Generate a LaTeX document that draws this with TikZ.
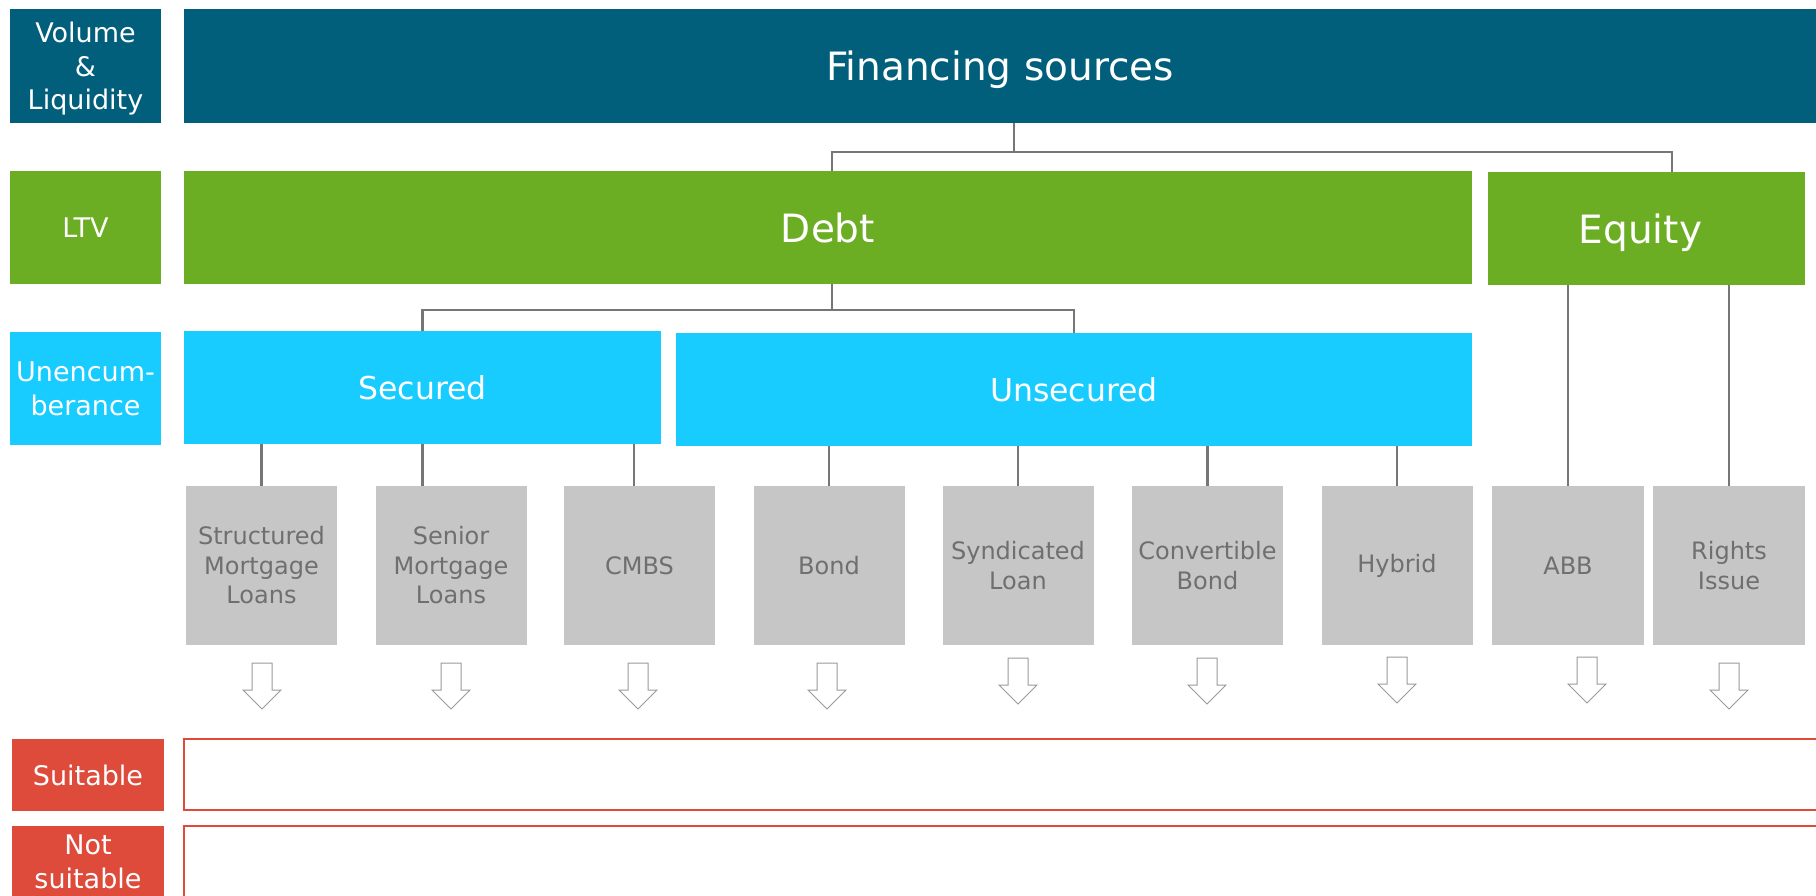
\documentclass[tikz,border=0pt]{standalone}
\usepackage{fontspec}
\setmainfont{DejaVu Sans}
\definecolor{cTeal}{HTML}{015F7B}
\definecolor{cGreen}{HTML}{6BAE24}
\definecolor{cCyan}{HTML}{19CCFF}
\definecolor{cGreyBox}{HTML}{C6C6C6}
\definecolor{cGreyTxt}{HTML}{6F6F6F}
\definecolor{cLine}{HTML}{767676}
\definecolor{cRed}{HTML}{DE4B3B}
\definecolor{cArrow}{HTML}{9A9A9A}
\begin{document}
\begin{tikzpicture}[x=0.5pt,y=-0.5pt,
  box/.style={rectangle, inner sep=0pt, align=center, text=white},
  lbl/.style={box, minimum width=75.5pt, minimum height=56.5pt, font=\fontsize{13.5}{16.75}\selectfont},
  bigtxt/.style={font=\fontsize{19.5}{23}\selectfont, text height=14.6pt, text depth=0pt},
  midtxt/.style={font=\fontsize{15.75}{19}\selectfont, text height=11.5pt, text depth=0pt},
  greybox/.style={rectangle, inner sep=0pt, align=center, fill=cGreyBox, text=cGreyTxt,
     minimum width=75.5pt, minimum height=79.5pt, font=\fontsize{12}{14.75}\selectfont},
  redlbl/.style={box, fill=cRed, minimum width=76pt, minimum height=36pt, font=\fontsize{13.5}{16.75}\selectfont},
  redframe/.style={rectangle, draw=cRed, line width=1pt, fill=white, minimum width=823pt, minimum height=35.5pt},
  conn/.style={draw=cLine, line width=1.25pt},
  darr/.pic={\draw[cArrow, fill=white, line width=0.5pt] (-10,0) -- (10,0) -- (10,27) -- (19,27) -- (0,46) -- (-19,27) -- (-10,27) -- cycle;}
]
\useasboundingbox (0,0) rectangle (1816,895);

% left labels
\node[lbl, fill=cTeal, minimum height=57pt, text depth=0pt] (vol) at (85.5,66) {Volume\\\&\\Liquidity};
\node[lbl, fill=cGreen] (ltv) at (85.5,227.5) {LTV};
\node[lbl, fill=cCyan, text depth=-4pt] (unenc) at (85.5,388.5) {Unencum-\\berance};

% main hierarchy
\node[box, bigtxt, fill=cTeal, minimum width=816pt, minimum height=57pt] (fin) at (1000,66) {Financing sources};
\node[box, bigtxt, fill=cGreen, minimum width=644pt, minimum height=56.5pt] (debt) at (828,227.5) {Debt};
\node[box, bigtxt, fill=cGreen, minimum width=158.5pt, minimum height=56.5pt] (equity) at (1646.5,228.5) {Equity\hspace{6pt}};
\node[box, midtxt, fill=cCyan, minimum width=238.5pt, minimum height=56.5pt] (secured) at (422.5,387.5) {Secured};
\node[box, midtxt, fill=cCyan, minimum width=398pt, minimum height=56.5pt] (unsecured) at (1074,389.5) {Unsecured};

% instruments
\node[greybox] (sml) at (261.5,565.5) {Structured\\Mortgage\\Loans};
\node[greybox] (snr) at (451,565.5) {Senior\\Mortgage\\Loans};
\node[greybox] (cmbs) at (639.5,565.5) {CMBS};
\node[greybox] (bond) at (829,565.5) {Bond};
\node[greybox] (synd) at (1018,565.5) {Syndicated\\Loan};
\node[greybox] (conv) at (1207.5,565.5) {Convertible\\Bond};
\node[greybox] (hyb) at (1397,565.5) {Hybrid};
\node[greybox, minimum width=76pt] (abb) at (1568,565.5) {ABB};
\node[greybox, minimum width=76pt] (rights) at (1729,565.5) {Rights\\Issue};

% connectors
\coordinate (fa) at (1014,152);
\coordinate (da) at (832,152);
\coordinate (ea) at (1672,152);
\draw[conn] (fin.south -| fa) -- (fa);
\draw[conn] (da |- debt.north) -- (da) -- (ea) -- (ea |- equity.north);
\coordinate (db) at (832,310);
\draw[conn] (debt.south -| db) -- (db);
\draw[conn] (secured.north) |- (db) -| (unsecured.north);
\coordinate (cm) at (634,486);
\draw[conn] (sml.north) -- (sml.north |- secured.south);
\draw[conn] (secured.south) -- (secured.south |- snr.north);
\draw[conn] (cm |- cmbs.north) -- (cm |- secured.south);
\draw[conn] (bond.north) -- (bond.north |- unsecured.south);
\draw[conn] (synd.north) -- (synd.north |- unsecured.south);
\draw[conn] (conv.north) -- (conv.north |- unsecured.south);
\draw[conn] (hyb.north) -- (hyb.north |- unsecured.south);
\draw[conn] (abb.north) -- (abb.north |- equity.south);
\draw[conn] (rights.north) -- (rights.north |- equity.south);

% down arrows
\pic at (262,663) {darr};
\pic at (451,663) {darr};
\pic at (638,663) {darr};
\pic at (827,663) {darr};
\pic at (1018,658) {darr};
\pic at (1207,658) {darr};
\pic at (1397,657) {darr};
\pic at (1587,657) {darr};
\pic at (1729,663) {darr};

% suitability rows
\node[redlbl] (suit) at (88,775) {Suitable};
\node[redframe] (suitrow) at (1007,774.5) {};
\node[redlbl] (notsuit) at (88,862) {Not\\suitable};
\node[redframe, minimum height=36pt] (notsuitrow) at (1007,862) {};
\end{tikzpicture}
\end{document}
